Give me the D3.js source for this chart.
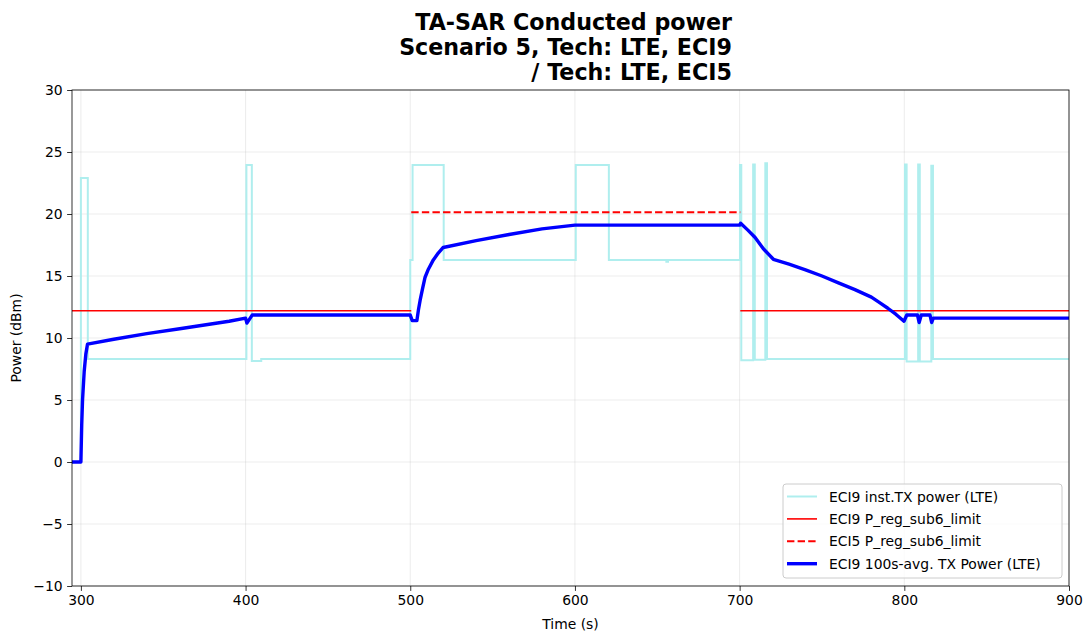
<!DOCTYPE html>
<html>
<head>
<meta charset="utf-8">
<script src="https://cdn.jsdelivr.net/npm/d3@7"></script>
<style>
  html, body { margin: 0; padding: 0; background: #ffffff; }
  svg { display: block; font-family: "DejaVu Sans", sans-serif; }
</style>
</head>
<body>
<svg id="chart" width="1086" height="632"></svg>
<script>
// ---------------- data ----------------
const titleLines = ["TA-SAR Conducted power", "Scenario 5, Tech: LTE, ECI9", "/ Tech: LTE, ECI5"];
const xLabel = "Time (s)";
const yLabel = "Power (dBm)";
const xDomain = [294.6, 900];
const yDomain = [-10, 30];
const xTicks = [300, 400, 500, 600, 700, 800, 900];
const yTicks = [-10, -5, 0, 5, 10, 15, 20, 25, 30];
const seriesNames = ["ECI9 inst.TX power (LTE)", "ECI9 P_reg_sub6_limit", "ECI5 P_reg_sub6_limit", "ECI9 100s-avg. TX Power (LTE)"];

// instantaneous TX power (step after each change)
const instTime  = [294.6, 300, 304.2, 400.5, 403.8, 409.5, 500, 501.4, 520.3, 600.5, 620.6, 655.5, 656.5, 700.2, 701.0, 708.2, 709.2, 715.6, 716.6, 800.4, 801.4, 808.4, 809.4, 816.4, 817.4, 900];
const instPower = [0, 22.9, 8.3, 23.95, 8.15, 8.3, 16.3, 23.95, 16.3, 23.95, 16.3, 16.15, 16.3, 23.95, 8.2, 24.0, 8.25, 24.1, 8.3, 24.0, 8.1, 24.0, 8.1, 23.9, 8.3, 8.3];

// ECI9 regulatory limit (two segments, gap = null)
const eci9LimTime  = [294.6, 500.6, null, 700.4, 900];
const eci9LimPower = [12.2, 12.2, null, 12.2, 12.2];
// ECI5 regulatory limit
const eci5LimTime  = [500.6, 700.4];
const eci5LimPower = [20.15, 20.15];

// 100 s average TX power
const avgTime  = [294.6, 300, 300.5, 301, 302, 303, 304, 320, 340, 360, 380, 390, 400, 400.8, 404, 500, 501.2, 504, 505, 506, 507.5, 509, 511, 514, 517, 520, 540, 560, 580, 600, 650, 700, 700.6, 705, 709.4, 714.4, 720.5, 730, 740, 750, 760, 770, 780, 785, 790, 795, 799.8, 801.5, 808, 809, 810.3, 815.6, 816.6, 817.6, 900];
const avgPower = [0, 0, 3, 5, 7.3, 8.7, 9.5, 9.9, 10.35, 10.75, 11.15, 11.35, 11.6, 11.2, 11.85, 11.85, 11.4, 11.4, 12.3, 13.05, 14.0, 14.9, 15.55, 16.3, 16.85, 17.3, 17.85, 18.35, 18.8, 19.1, 19.1, 19.1, 19.25, 18.7, 18.1, 17.2, 16.35, 15.95, 15.5, 15.0, 14.45, 13.9, 13.3, 12.85, 12.4, 11.9, 11.35, 11.85, 11.85, 11.25, 11.85, 11.85, 11.25, 11.6, 11.6];

// ---------------- layout ----------------
const W = 1086, H = 632;
const m = { left: 72, right: 17, top: 90, bottom: 46 };
const svg = d3.select("#chart");
const x = d3.scaleLinear().domain(xDomain).range([m.left, W - m.right]);
const y = d3.scaleLinear().domain(yDomain).range([H - m.bottom, m.top]);

svg.append("defs").append("clipPath").attr("id", "clip")
  .append("rect").attr("x", m.left).attr("y", m.top)
  .attr("width", W - m.left - m.right).attr("height", H - m.top - m.bottom);

// grid
const grid = svg.append("g");
grid.selectAll(".gx").data(xTicks).enter().append("line")
  .attr("x1", d => x(d)).attr("x2", d => x(d))
  .attr("y1", m.top).attr("y2", H - m.bottom)
  .attr("stroke", "#b0b0b0").attr("stroke-opacity", 0.3).attr("stroke-width", 0.8);
grid.selectAll(".gy").data(yTicks).enter().append("line")
  .attr("x1", m.left).attr("x2", W - m.right)
  .attr("y1", d => y(d)).attr("y2", d => y(d))
  .attr("stroke", "#b0b0b0").attr("stroke-opacity", 0.3).attr("stroke-width", 0.8);

const plot = svg.append("g").attr("clip-path", "url(#clip)");

const zip = (ts, vs) => ts.map((t, i) => [t, vs[i]]);

const stepLine = d3.line().x(d => x(d[0])).y(d => y(d[1])).curve(d3.curveStepAfter);
const line = d3.line().defined(d => d[0] !== null && d[1] !== null)
  .x(d => x(d[0])).y(d => y(d[1]));

plot.append("path").datum(zip(instTime, instPower))
  .attr("d", stepLine).attr("fill", "none")
  .attr("stroke", "#afeeee").attr("stroke-width", 2);

plot.append("path").datum(zip(eci9LimTime, eci9LimPower))
  .attr("d", line).attr("fill", "none")
  .attr("stroke", "#ff0000").attr("stroke-width", 1.6);

plot.append("path").datum(zip(eci5LimTime, eci5LimPower))
  .attr("d", line).attr("fill", "none")
  .attr("stroke", "#ff0000").attr("stroke-width", 2)
  .attr("stroke-dasharray", "7.4,3.2");

plot.append("path").datum(zip(avgTime, avgPower))
  .attr("d", line).attr("fill", "none")
  .attr("stroke", "#0000ff").attr("stroke-width", 3.4)
  .attr("stroke-linejoin", "round");

// axes
const xAxis = svg.append("g").attr("transform", `translate(0,${H - m.bottom})`)
  .call(d3.axisBottom(x).tickValues(xTicks).tickSize(4.9).tickPadding(4.5).tickFormat(d3.format("d")));
const yAxis = svg.append("g").attr("transform", `translate(${m.left},0)`)
  .call(d3.axisLeft(y).tickValues(yTicks).tickSize(4.9).tickPadding(4.5));
[xAxis, yAxis].forEach(a => {
  a.selectAll("path.domain").remove();
  a.selectAll("line").attr("stroke", "#000").attr("stroke-width", 0.8);
  a.selectAll("text").attr("font-size", "13.9px").attr("fill", "#000")
    .attr("font-family", "DejaVu Sans, sans-serif");
});

// spines
svg.append("rect").attr("x", m.left).attr("y", m.top)
  .attr("width", W - m.left - m.right).attr("height", H - m.top - m.bottom)
  .attr("fill", "none").attr("stroke", "#000").attr("stroke-width", 0.8);

// axis labels
svg.append("text").attr("x", (m.left + W - m.right) / 2).attr("y", 629)
  .attr("text-anchor", "middle").attr("font-size", "13.9px").text(xLabel);
svg.append("text").attr("transform", `translate(21,${(m.top + H - m.bottom) / 2}) rotate(-90)`)
  .attr("text-anchor", "middle").attr("font-size", "13.9px").text(yLabel);

// title (lines right-aligned)
const tg = svg.append("g");
titleLines.forEach((t, i) => tg.append("text")
  .attr("x", 732).attr("y", 30 + i * 25).attr("font-size", "22.2px").attr("font-weight", "bold")
  .attr("text-anchor", "end").text(t));

// legend
const legX = 783, legY = 484, legW = 279, legH = 94;
const lg = svg.append("g");
lg.append("rect").attr("x", legX).attr("y", legY).attr("width", legW).attr("height", legH)
  .attr("rx", 3).attr("fill", "#fff").attr("fill-opacity", 0.8)
  .attr("stroke", "#cccccc").attr("stroke-width", 1);
const legStyles = [
  { c: "#afeeee", w: 2, dash: null },
  { c: "#ff0000", w: 1.6, dash: null },
  { c: "#ff0000", w: 2, dash: "7.4,3.2" },
  { c: "#0000ff", w: 3.4, dash: null }
];
seriesNames.forEach((name, i) => {
  const cy = legY + 12.5 + i * 22.4;
  const l = lg.append("line").attr("x1", legX + 4).attr("x2", legX + 34)
    .attr("y1", cy).attr("y2", cy)
    .attr("stroke", legStyles[i].c).attr("stroke-width", legStyles[i].w);
  if (legStyles[i].dash) l.attr("stroke-dasharray", legStyles[i].dash);
  lg.append("text").attr("x", legX + 46).attr("y", cy + 5)
    .attr("font-size", "13.9px").attr("fill", "#000").text(name);
});
</script>
</body>
</html>
